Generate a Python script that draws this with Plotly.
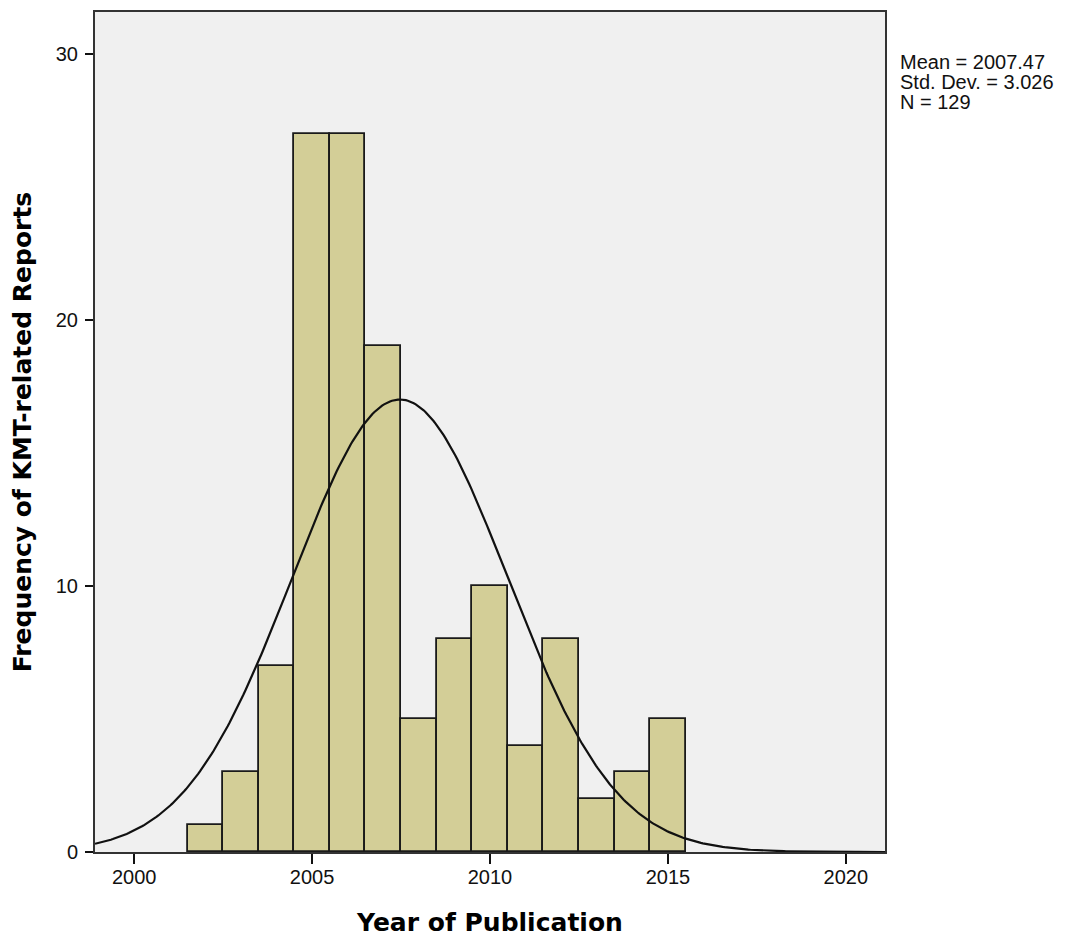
import math
import plotly.graph_objects as go

# ---- data ----
years = [2002, 2003, 2004, 2005, 2006, 2007, 2008, 2009, 2010, 2011, 2012, 2013, 2014, 2015]
counts = [1, 3, 7, 27, 27, 19, 5, 8, 10, 4, 8, 2, 3, 5]
stat_mean = 2007.47
stat_sd = 3.026
stat_n = 129
stat_labels = ["Mean = 2007.47", "Std. Dev. = 3.026", "N = 129"]
x_ticks = [2000, 2005, 2010, 2015, 2020]
y_ticks = [0, 10, 20, 30]

# ---- layout constants (page has an 8px body margin) ----
OFF = 8
W, H = 1065 - OFF, 941 - OFF
PL, PR, PT, PB = 95, 885, 10, 852          # plot box in image pixels
ML, MT = PL - OFF, PT - OFF
MR, MB = W - (PR - OFF), H - (PB - OFF)
PW, PH = PR - PL, PB - PT
XR = [1998.9, 2021.1]
YR = [0, 31.57]
FONT = "Liberation Sans, Arial, sans-serif"
TFONT = "DejaVu Sans, Verdana, sans-serif"

# Normal curve from the stated mean / sd / N (bin width 1)
nx = 400
curve_x = [XR[0] + (XR[1] - XR[0]) * i / (nx - 1) for i in range(nx)]
curve_y = [stat_n * 1.0 / (stat_sd * math.sqrt(2 * math.pi)) *
           math.exp(-0.5 * ((v - stat_mean) / stat_sd) ** 2) for v in curve_x]

fig = go.Figure()
fig.add_trace(go.Bar(
    x=years, y=counts, width=1,
    marker=dict(color="#D3CE97", line=dict(color="#1a1a1a", width=1.8)),
    showlegend=False, hoverinfo="x+y",
))
fig.add_trace(go.Scatter(
    x=curve_x, y=curve_y, mode="lines",
    line=dict(color="#111111", width=2.2), showlegend=False, hoverinfo="skip",
))

annotations = []
line_y = [60, 80, 100]   # image pixels
for txt, py in zip(stat_labels, line_y):
    annotations.append(dict(
        text=txt, xref="paper", yref="paper",
        x=1 + (898 - PR) / PW, y=1 - (py - PT) / PH,
        xanchor="left", yanchor="middle", showarrow=False,
        font=dict(family=FONT, size=20, color="#111111"),
    ))

fig.update_layout(
    width=W, height=H,
    margin=dict(l=ML, r=MR, t=MT, b=MB, pad=0),
    paper_bgcolor="white", plot_bgcolor="#F0F0F0",
    bargap=0,
    font=dict(family=FONT, size=20, color="#111111"),
    annotations=annotations,
    xaxis=dict(
        range=XR, tickvals=x_ticks, ticktext=[str(v) for v in x_ticks],
        ticks="outside", ticklen=10, tickwidth=1.5, tickcolor="#111111",
        showline=True, linecolor="#333333", linewidth=2, mirror=True,
        showgrid=False, zeroline=False,
        tickfont=dict(family=FONT, size=20, color="#111111"),
        ticklabelstandoff=-4,
        title=dict(text="<b>Year of Publication</b>", standoff=26,
                   font=dict(family=TFONT, size=25, color="#000000")),
    ),
    yaxis=dict(
        range=YR, tickvals=y_ticks, ticktext=[str(v) for v in y_ticks],
        ticks="outside", ticklen=8, tickwidth=1.5, tickcolor="#111111",
        showline=True, linecolor="#333333", linewidth=2, mirror=True,
        showgrid=False, zeroline=False,
        tickfont=dict(family=FONT, size=20, color="#111111"),
        ticklabelstandoff=3,
        title=dict(text="<b>Frequency of KMT-related Reports</b>", standoff=18,
                   font=dict(family=TFONT, size=25, color="#000000")),
    ),
)

fig.write_html("out.html")
